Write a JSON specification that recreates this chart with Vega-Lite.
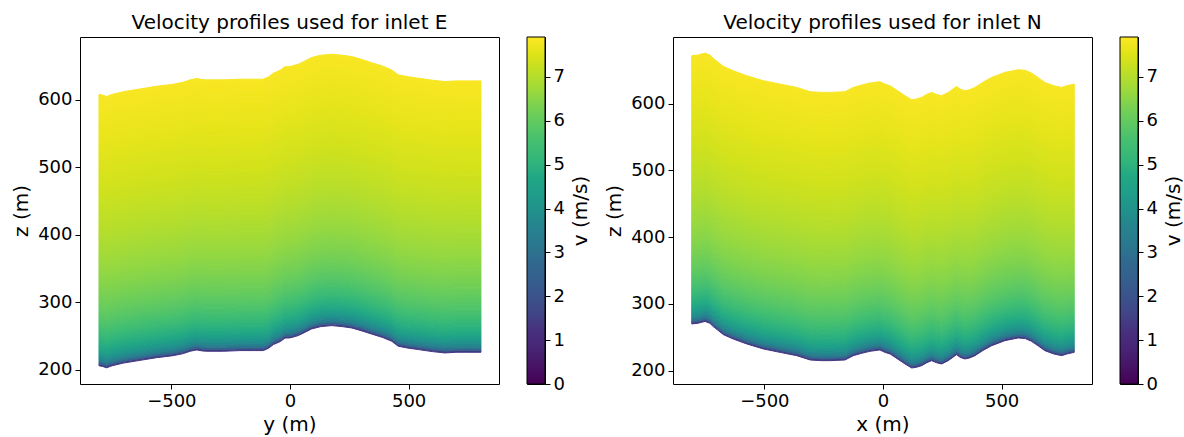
{
  "$schema": "https://vega.github.io/schema/vega-lite/v6.json",
  "padding": {"left": 11, "top": 12, "right": 0, "bottom": 0},
  "datasets": {
    "bands": [
      {"k":0,"v":0},{"k":1,"v":1.3},{"k":2,"v":2.4},{"k":3,"v":2.99},{"k":4,"v":3.39},{"k":5,"v":3.68},{"k":6,"v":3.91},{"k":7,"v":4.11},{"k":8,"v":4.27},{"k":9,"v":4.42},{"k":10,"v":4.55},
      {"k":11,"v":4.67},{"k":12,"v":4.77},{"k":13,"v":4.87},{"k":14,"v":4.96},{"k":15,"v":5.04},{"k":16,"v":5.12},{"k":17,"v":5.19},{"k":18,"v":5.26},{"k":19,"v":5.33},{"k":20,"v":5.39},
      {"k":21,"v":5.45},{"k":22,"v":5.5},{"k":23,"v":5.55},{"k":24,"v":5.61},{"k":25,"v":5.65},{"k":26,"v":5.7},{"k":27,"v":5.75},{"k":28,"v":5.79},{"k":29,"v":5.83},{"k":30,"v":5.87},
      {"k":31,"v":5.91},{"k":32,"v":5.95},{"k":33,"v":5.98},{"k":34,"v":6.02},{"k":35,"v":6.05},{"k":36,"v":6.09},{"k":37,"v":6.12},{"k":38,"v":6.15},{"k":39,"v":6.18},{"k":40,"v":6.21},
      {"k":41,"v":6.24},{"k":42,"v":6.27},{"k":43,"v":6.3},{"k":44,"v":6.32},{"k":45,"v":6.35},{"k":46,"v":6.38},{"k":47,"v":6.4},{"k":48,"v":6.43},{"k":49,"v":6.45},{"k":50,"v":6.47},
      {"k":51,"v":6.5},{"k":52,"v":6.52},{"k":53,"v":6.54},{"k":54,"v":6.56},{"k":55,"v":6.59},{"k":56,"v":6.61},{"k":57,"v":6.63},{"k":58,"v":6.65},{"k":59,"v":6.67},{"k":60,"v":6.69},
      {"k":61,"v":6.71},{"k":62,"v":6.73},{"k":63,"v":6.75},{"k":64,"v":6.76},{"k":65,"v":6.78},{"k":66,"v":6.8},{"k":67,"v":6.82},{"k":68,"v":6.84},{"k":69,"v":6.85},{"k":70,"v":6.87},
      {"k":71,"v":6.89},{"k":72,"v":6.9},{"k":73,"v":6.92},{"k":74,"v":6.93},{"k":75,"v":6.95},{"k":76,"v":6.97},{"k":77,"v":6.98},{"k":78,"v":7.0},{"k":79,"v":7.01},{"k":80,"v":7.03},
      {"k":81,"v":7.04},{"k":82,"v":7.06},{"k":83,"v":7.07},{"k":84,"v":7.08},{"k":85,"v":7.1},{"k":86,"v":7.11},{"k":87,"v":7.12},{"k":88,"v":7.14},{"k":89,"v":7.15},{"k":90,"v":7.16},
      {"k":91,"v":7.18},{"k":92,"v":7.19},{"k":93,"v":7.2},{"k":94,"v":7.22},{"k":95,"v":7.23},{"k":96,"v":7.24},{"k":97,"v":7.25},{"k":98,"v":7.26},{"k":99,"v":7.28},{"k":100,"v":7.29},
      {"k":101,"v":7.3},{"k":102,"v":7.31},{"k":103,"v":7.32},{"k":104,"v":7.33},{"k":105,"v":7.35},{"k":106,"v":7.36},{"k":107,"v":7.37},{"k":108,"v":7.38},{"k":109,"v":7.39},{"k":110,"v":7.4},
      {"k":111,"v":7.41},{"k":112,"v":7.42},{"k":113,"v":7.43},{"k":114,"v":7.44},{"k":115,"v":7.45},{"k":116,"v":7.46},{"k":117,"v":7.47},{"k":118,"v":7.48},{"k":119,"v":7.49},{"k":120,"v":7.5},
      {"k":121,"v":7.51},{"k":122,"v":7.52},{"k":123,"v":7.53},{"k":124,"v":7.54},{"k":125,"v":7.55},{"k":126,"v":7.56},{"k":127,"v":7.57},{"k":128,"v":7.58},{"k":129,"v":7.59},{"k":130,"v":7.6},
      {"k":131,"v":7.6},{"k":132,"v":7.61},{"k":133,"v":7.62},{"k":134,"v":7.63},{"k":135,"v":7.64},{"k":136,"v":7.65},{"k":137,"v":7.66},{"k":138,"v":7.67},{"k":139,"v":7.67},{"k":140,"v":7.68},
      {"k":141,"v":7.69},{"k":142,"v":7.7},{"k":143,"v":7.71},{"k":144,"v":7.71},{"k":145,"v":7.72},{"k":146,"v":7.73},{"k":147,"v":7.74},{"k":148,"v":7.75},{"k":149,"v":7.75},{"k":150,"v":7.76},
      {"k":151,"v":7.77},{"k":152,"v":7.78},{"k":153,"v":7.79},{"k":154,"v":7.79},{"k":155,"v":7.8},{"k":156,"v":7.81},{"k":157,"v":7.82},{"k":158,"v":7.82},{"k":159,"v":7.83},{"k":160,"v":7.84}
    ],
    "E": [
      {"x":-805,"k":0,"dz":206},{"x":-790,"k":0,"dz":205},{"x":-773,"k":0,"dz":203},{"x":-750,"k":0,"dz":206},{"x":-702,"k":0,"dz":210},
      {"x":-632,"k":0,"dz":214},{"x":-562,"k":0,"dz":218},{"x":-492,"k":0,"dz":221},{"x":-450,"k":0,"dz":224},{"x":-421,"k":0,"dz":227.5},
      {"x":-393,"k":0,"dz":229.5},{"x":-370,"k":0,"dz":228},{"x":-351,"k":0,"dz":227.5},{"x":-281,"k":0,"dz":227.5},{"x":-211,"k":0,"dz":228.5},
      {"x":-150,"k":0,"dz":228.5},{"x":-112,"k":0,"dz":228.5},{"x":-90,"k":0,"dz":232},{"x":-70,"k":0,"dz":237.4},{"x":-40,"k":0,"dz":242},
      {"x":-21,"k":0,"dz":247},{"x":0,"k":0,"dz":247.3},{"x":35,"k":0,"dz":250.7},{"x":60,"k":0,"dz":255},{"x":91,"k":0,"dz":260.6},
      {"x":130,"k":0,"dz":264},{"x":176,"k":0,"dz":265.5},{"x":220,"k":0,"dz":264},{"x":260,"k":0,"dz":262},{"x":300,"k":0,"dz":258},
      {"x":344,"k":0,"dz":253},{"x":390,"k":0,"dz":248},{"x":429,"k":0,"dz":242.3},{"x":456,"k":0,"dz":235},{"x":500,"k":0,"dz":232},
      {"x":541,"k":0,"dz":230},{"x":600,"k":0,"dz":227},{"x":653,"k":0,"dz":225},{"x":700,"k":0,"dz":226},{"x":737,"k":0,"dz":226},{"x":805,"k":0,"dz":226}
    ],
    "N": [
      {"x":-806,"k":0,"dz":270},{"x":-780,"k":0,"dz":271},{"x":-750,"k":0,"dz":273.8},{"x":-730,"k":0,"dz":271},{"x":-715,"k":0,"dz":266},
      {"x":-673,"k":0,"dz":254},{"x":-631,"k":0,"dz":247.4},{"x":-574,"k":0,"dz":240},{"x":-504,"k":0,"dz":232.5},{"x":-434,"k":0,"dz":227.4},
      {"x":-364,"k":0,"dz":222.5},{"x":-307,"k":0,"dz":216},{"x":-260,"k":0,"dz":215},{"x":-223,"k":0,"dz":215},{"x":-160,"k":0,"dz":216},
      {"x":-125,"k":0,"dz":222.5},{"x":-90,"k":0,"dz":226},{"x":-55,"k":0,"dz":229},{"x":-13,"k":0,"dz":231},{"x":8,"k":0,"dz":227.4},
      {"x":30,"k":0,"dz":225},{"x":51,"k":0,"dz":220},{"x":93,"k":0,"dz":210},{"x":121,"k":0,"dz":204},{"x":140,"k":0,"dz":205},
      {"x":163,"k":0,"dz":207.5},{"x":185,"k":0,"dz":212},{"x":205,"k":0,"dz":215},{"x":225,"k":0,"dz":212},{"x":247,"k":0,"dz":210},
      {"x":275,"k":0,"dz":215},{"x":295,"k":0,"dz":220},{"x":310,"k":0,"dz":224},{"x":325,"k":0,"dz":220},{"x":345,"k":0,"dz":217.5},
      {"x":365,"k":0,"dz":219},{"x":388,"k":0,"dz":222.5},{"x":420,"k":0,"dz":230},{"x":458,"k":0,"dz":237.4},{"x":514,"k":0,"dz":245},
      {"x":570,"k":0,"dz":249},{"x":600,"k":0,"dz":248},{"x":626,"k":0,"dz":243.9},{"x":655,"k":0,"dz":237},{"x":682,"k":0,"dz":230},
      {"x":720,"k":0,"dz":225},{"x":753,"k":0,"dz":222.5},{"x":775,"k":0,"dz":225},{"x":806,"k":0,"dz":227.4}
    ],
    "cbar": [{"a":0,"b":1,"lo":0,"hi":7.91}]
  },
  "hconcat": [
    {
      "spacing": 26,
      "hconcat": [
        {
          "width": 419, "height": 347,
          "title": "Velocity profiles used for inlet E",
          "data": {"name": "E"},
          "transform": [
            {"impute": "dz", "key": "k", "keyvals": [0,1,2,3,4,5,6,7,8,9,10,11,12,13,14,15,16,17,18,19,20,21,22,23,24,25,26,27,28,29,30,31,32,33,34,35,36,37,38,39,40,41,42,43,44,45,46,47,48,49,50,51,52,53,54,55,56,57,58,59,60,61,62,63,64,65,66,67,68,69,70,71,72,73,74,75,76,77,78,79,80,81,82,83,84,85,86,87,88,89,90,91,92,93,94,95,96,97,98,99,100,101,102,103,104,105,106,107,108,109,110,111,112,113,114,115,116,117,118,119,120,121,122,123,124,125,126,127,128,129,130,131,132,133,134,135,136,137,138,139,140,141,142,143,144,145,146,147,148,149,150,151,152,153,154,155,156,157,158,159,160], "groupby": ["x"], "value": 2.5125},
            {"lookup": "k", "from": {"data": {"name": "bands"}, "key": "k", "fields": ["v"]}}
          ],
          "mark": {"type": "area", "strokeWidth": 1, "clip": true},
          "encoding": {
            "x": {"field": "x", "type": "quantitative", "scale": {"domain": [-885, 881], "nice": false, "zero": false}, "axis": {"values": [-500, 0, 500], "title": "y (m)"}},
            "y": {"field": "dz", "type": "quantitative", "stack": "zero", "scale": {"domain": [179, 693], "nice": false, "zero": false}, "axis": {"values": [200, 300, 400, 500, 600], "title": "z (m)"}},
            "order": {"field": "k", "type": "quantitative", "sort": "ascending"},
            "detail": {"field": "k", "type": "nominal"},
            "color": {"field": "v", "type": "quantitative", "scale": {"scheme": "viridis", "domain": [0, 7.91]}, "legend": null},
            "stroke": {"field": "v", "type": "quantitative", "scale": {"scheme": "viridis", "domain": [0, 7.91]}, "legend": null},
            "opacity": {"condition": {"test": "datum.k === 0", "value": 0}, "value": 1}
          }
        },
        {
          "width": 18, "height": 347,
          "data": {"name": "cbar"},
          "mark": {"type": "rect", "stroke": "black", "strokeWidth": 1, "fill": {"gradient": "linear", "x1": 0, "y1": 1, "x2": 0, "y2": 0, "stops": [
            {"offset": 0, "color": "#440154"}, {"offset": 0.05, "color": "#471365"}, {"offset": 0.1, "color": "#482475"}, {"offset": 0.15, "color": "#472f7d"},
            {"offset": 0.2, "color": "#414487"}, {"offset": 0.25, "color": "#3b528b"}, {"offset": 0.3, "color": "#355f8d"}, {"offset": 0.35, "color": "#31688e"},
            {"offset": 0.4, "color": "#2a788e"}, {"offset": 0.45, "color": "#26828e"}, {"offset": 0.5, "color": "#21918c"}, {"offset": 0.55, "color": "#1f9e89"},
            {"offset": 0.6, "color": "#22a884"}, {"offset": 0.65, "color": "#35b779"}, {"offset": 0.7, "color": "#44bf70"}, {"offset": 0.75, "color": "#5ec962"},
            {"offset": 0.8, "color": "#7ad151"}, {"offset": 0.85, "color": "#9fda3a"}, {"offset": 0.9, "color": "#bddf26"}, {"offset": 0.95, "color": "#dfe318"},
            {"offset": 1, "color": "#fde725"}]}},
          "encoding": {
            "x": {"field": "a", "type": "quantitative", "scale": {"domain": [0, 1]}, "axis": null},
            "x2": {"field": "b"},
            "y": {"field": "lo", "type": "quantitative", "scale": {"domain": [0, 7.91], "nice": false, "zero": false}, "axis": {"orient": "right", "values": [0,1,2,3,4,5,6,7], "title": "v (m/s)", "titleAngle": 270, "titleBaseline": "top", "titlePadding": 6}},
            "y2": {"field": "hi"}
          }
        }
      ]
    },
    {
      "spacing": 26,
      "hconcat": [
        {
          "width": 419, "height": 347,
          "title": "Velocity profiles used for inlet N",
          "data": {"name": "N"},
          "transform": [
            {"impute": "dz", "key": "k", "keyvals": [0,1,2,3,4,5,6,7,8,9,10,11,12,13,14,15,16,17,18,19,20,21,22,23,24,25,26,27,28,29,30,31,32,33,34,35,36,37,38,39,40,41,42,43,44,45,46,47,48,49,50,51,52,53,54,55,56,57,58,59,60,61,62,63,64,65,66,67,68,69,70,71,72,73,74,75,76,77,78,79,80,81,82,83,84,85,86,87,88,89,90,91,92,93,94,95,96,97,98,99,100,101,102,103,104,105,106,107,108,109,110,111,112,113,114,115,116,117,118,119,120,121,122,123,124,125,126,127,128,129,130,131,132,133,134,135,136,137,138,139,140,141,142,143,144,145,146,147,148,149,150,151,152,153,154,155,156,157,158,159,160], "groupby": ["x"], "value": 2.5125},
            {"lookup": "k", "from": {"data": {"name": "bands"}, "key": "k", "fields": ["v"]}}
          ],
          "mark": {"type": "area", "strokeWidth": 1, "clip": true},
          "encoding": {
            "x": {"field": "x", "type": "quantitative", "scale": {"domain": [-885, 881], "nice": false, "zero": false}, "axis": {"values": [-500, 0, 500], "title": "x (m)"}},
            "y": {"field": "dz", "type": "quantitative", "stack": "zero", "scale": {"domain": [180, 700], "nice": false, "zero": false}, "axis": {"values": [200, 300, 400, 500, 600], "title": "z (m)"}},
            "order": {"field": "k", "type": "quantitative", "sort": "ascending"},
            "detail": {"field": "k", "type": "nominal"},
            "color": {"field": "v", "type": "quantitative", "scale": {"scheme": "viridis", "domain": [0, 7.91]}, "legend": null},
            "stroke": {"field": "v", "type": "quantitative", "scale": {"scheme": "viridis", "domain": [0, 7.91]}, "legend": null},
            "opacity": {"condition": {"test": "datum.k === 0", "value": 0}, "value": 1}
          }
        },
        {
          "width": 18, "height": 347,
          "data": {"name": "cbar"},
          "mark": {"type": "rect", "stroke": "black", "strokeWidth": 1, "fill": {"gradient": "linear", "x1": 0, "y1": 1, "x2": 0, "y2": 0, "stops": [
            {"offset": 0, "color": "#440154"}, {"offset": 0.05, "color": "#471365"}, {"offset": 0.1, "color": "#482475"}, {"offset": 0.15, "color": "#472f7d"},
            {"offset": 0.2, "color": "#414487"}, {"offset": 0.25, "color": "#3b528b"}, {"offset": 0.3, "color": "#355f8d"}, {"offset": 0.35, "color": "#31688e"},
            {"offset": 0.4, "color": "#2a788e"}, {"offset": 0.45, "color": "#26828e"}, {"offset": 0.5, "color": "#21918c"}, {"offset": 0.55, "color": "#1f9e89"},
            {"offset": 0.6, "color": "#22a884"}, {"offset": 0.65, "color": "#35b779"}, {"offset": 0.7, "color": "#44bf70"}, {"offset": 0.75, "color": "#5ec962"},
            {"offset": 0.8, "color": "#7ad151"}, {"offset": 0.85, "color": "#9fda3a"}, {"offset": 0.9, "color": "#bddf26"}, {"offset": 0.95, "color": "#dfe318"},
            {"offset": 1, "color": "#fde725"}]}},
          "encoding": {
            "x": {"field": "a", "type": "quantitative", "scale": {"domain": [0, 1]}, "axis": null},
            "x2": {"field": "b"},
            "y": {"field": "lo", "type": "quantitative", "scale": {"domain": [0, 7.91], "nice": false, "zero": false}, "axis": {"orient": "right", "values": [0,1,2,3,4,5,6,7], "title": "v (m/s)", "titleAngle": 270, "titleBaseline": "top", "titlePadding": 6}},
            "y2": {"field": "hi"}
          }
        }
      ]
    }
  ],
  "spacing": 13,
  "resolve": {"scale": {"x": "independent", "y": "independent", "color": "independent", "stroke": "independent"}},
  "config": {
    "font": "DejaVu Sans",
    "view": {"stroke": "black", "strokeWidth": 1},
    "axis": {"grid": false, "domain": false, "tickColor": "black", "tickSize": 5, "tickWidth": 1, "labelFontSize": 18, "labelColor": "black", "labelPadding": 3, "titleFontSize": 20, "titleFontWeight": "normal", "titleColor": "black", "labelFont": "DejaVu Sans", "titleFont": "DejaVu Sans"},
    "axisY": {"titlePadding": 6},
    "axisX": {"titlePadding": 4},
    "title": {"fontSize": 20, "fontWeight": "normal", "font": "DejaVu Sans", "color": "black", "offset": 4}
  }
}
